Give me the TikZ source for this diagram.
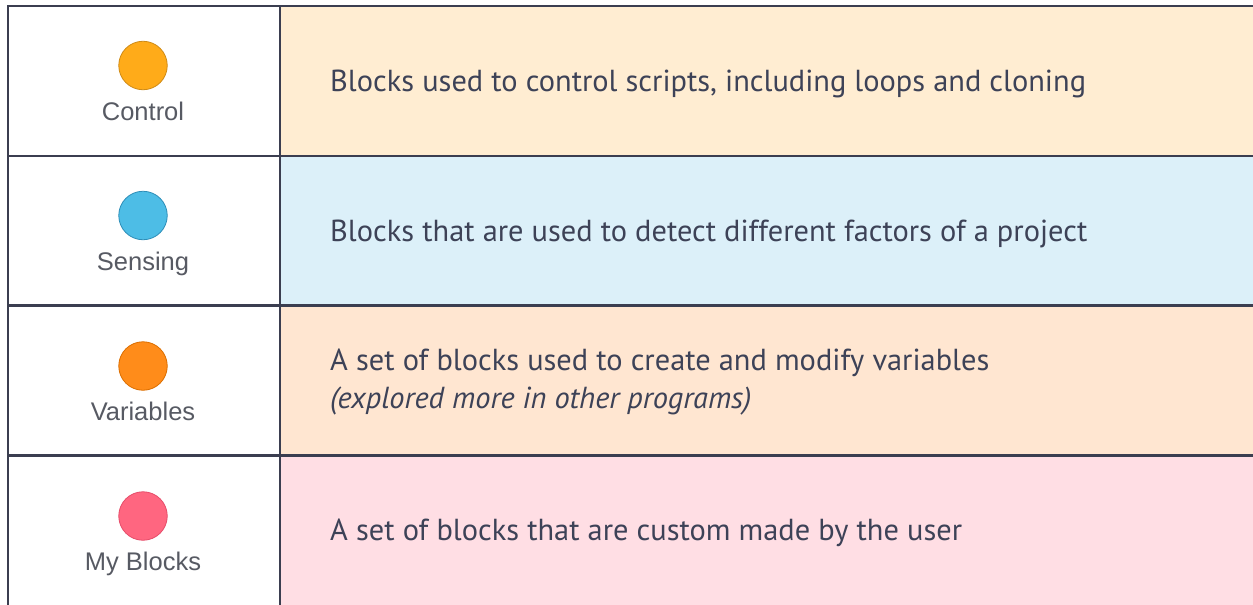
\documentclass[tikz,border=0pt]{standalone}
\usepackage{fontspec}
\setmainfont{PT Sans}
\newfontfamily\labelfont{Liberation Sans}

\definecolor{rule}{HTML}{3B3E50}
\definecolor{bodytext}{HTML}{3D4257}
\definecolor{labeltext}{HTML}{575A63}
\definecolor{controlbg}{HTML}{FFEDD2}
\definecolor{sensingbg}{HTML}{DCF0F9}
\definecolor{variablesbg}{HTML}{FFE6D1}
\definecolor{myblocksbg}{HTML}{FFDEE4}
\definecolor{controlfill}{HTML}{FFAB19}
\definecolor{controlline}{HTML}{CF8B17}
\definecolor{sensingfill}{HTML}{4DBDE6}
\definecolor{sensingline}{HTML}{2E8EB8}
\definecolor{variablesfill}{HTML}{FF8C1A}
\definecolor{variablesline}{HTML}{DB6E00}
\definecolor{myblocksfill}{HTML}{FF6680}
\definecolor{myblocksline}{HTML}{E64D6A}

\tikzset{
  gridline/.style={draw=rule, line width=2.2pt},
  dot/.style={circle, minimum size=48.5pt, inner sep=0pt, line width=0.8pt},
  category/.style={anchor=base, inner sep=0pt, text=labeltext,
    font=\labelfont\fontsize{25.5}{29}\selectfont},
  description/.style={anchor=base west, inner sep=0pt, text=bodytext,
    font=\fontsize{30.4}{38}\selectfont},
}

\begin{document}
\begin{tikzpicture}[x=1pt, y=-1pt]
  \useasboundingbox (0,0) rectangle (1253,605);
  \fill[white] (0,0) rectangle (1253,605);

  % coloured description cells
  \fill[controlbg]   (280,6)     rectangle (1253,155.7);
  \fill[sensingbg]   (280,155.7) rectangle (1253,305.5);
  \fill[variablesbg] (280,305.5) rectangle (1253,455.5);
  \fill[myblocksbg]  (280,455.5) rectangle (1253,605);

  % table rules
  \draw[gridline] (8,605) -- (8,6) -- (1253,6);
  \draw[gridline] (280,6) -- (280,605);
  \draw[gridline] (8,155.7) -- (1253,155.7);
  \draw[gridline] (8,305.5) -- (1253,305.5);
  \draw[gridline] (8,455.5) -- (1253,455.5);

  % category swatches and names
  \node[dot, fill=controlfill, draw=controlline]     (cdot) at (143,65.5)  {};
  \node[category] (clabel) at (143,120.7) {Control};
  \node[dot, fill=sensingfill, draw=sensingline]     (sdot) at (143,215.5) {};
  \node[category] (slabel) at (143,270.2) {Sensing};
  \node[dot, fill=variablesfill, draw=variablesline] (vdot) at (143,366)   {};
  \node[category] (vlabel) at (143,420) {Variables};
  \node[dot, fill=myblocksfill, draw=myblocksline]   (mdot) at (143,516)   {};
  \node[category] (mlabel) at (143,570) {My Blocks};

  % descriptions
  \node[description] (ctext) at (330,91.7)
    {Blocks used to control scripts, including loops and cloning};
  \node[description] (stext) at (330,241.7)
    {Blocks that are used to detect different factors of a project};
  \node[description] (vtext) at (330,370)
    {A set of blocks used to create and modify variables};
  \node[description] (vnote) at (330,408)
    {\itshape (explored more in other programs)};
  \node[description] (mtext) at (330,540.7)
    {A set of blocks that are custom made by the user};
\end{tikzpicture}
\end{document}
